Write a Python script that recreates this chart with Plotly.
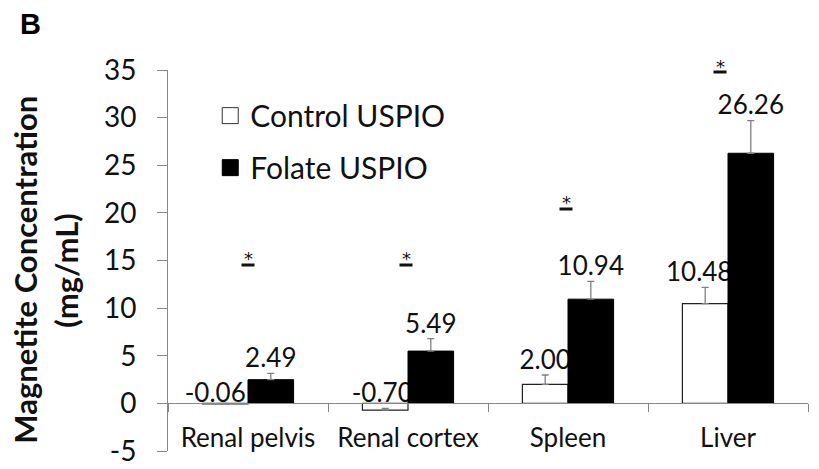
import plotly.graph_objects as go

# ---- data -------------------------------------------------------------
categories = ["Renal pelvis", "Renal cortex", "Spleen", "Liver"]
control_mean = [-0.06, -0.70, 2.00, 10.48]
control_err = [0.05, 0.18, 0.98, 1.69]
folate_mean = [2.49, 5.49, 10.94, 26.26]
folate_err = [0.66, 1.30, 1.86, 3.42]
y_ticks = [-5, 0, 5, 10, 15, 20, 25, 30, 35]
y_tick_text = [str(t) for t in y_ticks]

# ---- layout helpers ---------------------------------------------------
Y_RANGE = [-5, 35]
star_y = [15.6, 15.6, 21.5, 35.8]          # height of the significance marks
star_dx = [0, -2, -2, -8]                   # pixel nudges of the marks
ctrl_label_dx = [-10, -3, 0, -6]            # pixel nudges of control labels
BAR_W = 0.285
PX_PER_CAT = 160.0
FONT = "Lato"
TXT = "#111111"
AXIS = "#878787"


def label_centre(v, e):
    top = max(v + e, 0.0)
    return top + (1.7 if v > 0 else 1.15)


def to_paper(v):
    return (v - Y_RANGE[0]) / (Y_RANGE[1] - Y_RANGE[0])


fig = go.Figure()

# legend entries
fig.add_trace(go.Scatter(
    x=[None], y=[None], mode="markers", name="Control USPIO",
    marker=dict(symbol="square", size=16, color="white",
                line=dict(color="#333333", width=1)),
    legendgroup="c"))
fig.add_trace(go.Scatter(
    x=[None], y=[None], mode="markers", name="Folate USPIO",
    marker=dict(symbol="square", size=16, color="black",
                line=dict(color="black", width=1)),
    legendgroup="f"))

# control bars
fig.add_trace(go.Bar(
    x=categories, y=control_mean, offset=-BAR_W, width=BAR_W,
    marker=dict(color="white", line=dict(color="#222222", width=1.2)),
    error_y=dict(type="data", symmetric=False, array=control_err,
                 arrayminus=[0] * len(control_err), color="#7f7f7f",
                 thickness=1.3, width=3.5),
    showlegend=False, hoverinfo="skip"))

# control value labels (drawn below the folate bars)
fig.add_trace(go.Bar(
    x=categories,
    y=[1.0] * len(categories),
    base=[label_centre(v, e) - 0.5 for v, e in zip(control_mean, control_err)],
    offset=[-BAR_W + d / PX_PER_CAT for d in ctrl_label_dx], width=BAR_W,
    marker=dict(color="rgba(0,0,0,0)", line=dict(width=0)),
    text=[f"{v:.2f}" for v in control_mean],
    textposition="inside", insidetextanchor="middle", constraintext="none",
    textangle=0,
    insidetextfont=dict(family=FONT, size=26, color=TXT),
    showlegend=False, hoverinfo="skip"))

# folate bars
fig.add_trace(go.Bar(
    x=categories, y=folate_mean, offset=0, width=BAR_W,
    marker=dict(color="black", line=dict(color="black", width=1)),
    error_y=dict(type="data", symmetric=False, array=folate_err,
                 arrayminus=[0] * len(folate_err), color="#7f7f7f",
                 thickness=1.3, width=3.5),
    showlegend=False, hoverinfo="skip"))

# folate value labels
fig.add_trace(go.Bar(
    x=categories,
    y=[1.0] * len(categories),
    base=[label_centre(v, e) - 0.5 for v, e in zip(folate_mean, folate_err)],
    offset=0, width=BAR_W,
    marker=dict(color="rgba(0,0,0,0)", line=dict(width=0)),
    text=[f"{v:.2f}" for v in folate_mean],
    textposition="inside", insidetextanchor="middle", constraintext="none",
    textangle=0,
    insidetextfont=dict(family=FONT, size=26, color=TXT),
    showlegend=False, hoverinfo="skip"))

annotations = []
# significance asterisks with a short bar beneath
for cat, sy, dx in zip(categories, star_y, star_dx):
    annotations.append(dict(x=cat, y=to_paper(sy), xref="x", yref="paper",
                            text="*", xanchor="center", yanchor="middle",
                            showarrow=False, xshift=dx, yshift=-4,
                            font=dict(family="DejaVu Sans", size=18,
                                      color=TXT)))
    annotations.append(dict(x=cat, y=to_paper(sy), xref="x", yref="paper",
                            text=" ", xanchor="center", yanchor="middle",
                            showarrow=False, xshift=dx, yshift=-10,
                            width=12, height=2, borderpad=0,
                            bgcolor=TXT, font=dict(size=2)))

# panel letter
annotations.append(dict(x=-0.215, y=1.12, xref="paper", yref="paper",
                        xanchor="center", yanchor="middle",
                        text="<b>B</b>", showarrow=False,
                        font=dict(family="Liberation Sans", size=29,
                                  color="black")))
# y-axis title, two lines
annotations.append(dict(x=-0.224, y=0.475, xref="paper", yref="paper",
                        xanchor="center", yanchor="middle",
                        text="<b>Magnetite Concentration</b>", textangle=-90,
                        showarrow=False,
                        font=dict(family=FONT, size=31, color=TXT)))
annotations.append(dict(x=-0.160, y=0.475, xref="paper", yref="paper",
                        xanchor="center", yanchor="middle",
                        text="<b>(mg/mL)</b>", textangle=-90,
                        showarrow=False,
                        font=dict(family=FONT, size=31, color=TXT)))

fig.update_layout(
    width=819, height=469,
    margin=dict(l=168, r=11, t=70, b=18, autoexpand=False),
    paper_bgcolor="white", plot_bgcolor="white",
    barmode="overlay",
    font=dict(family=FONT, color=TXT),
    showlegend=True,
    legend=dict(x=0.066, y=0.812, xanchor="left", yanchor="middle",
                bgcolor="rgba(0,0,0,0)", borderwidth=0,
                font=dict(family=FONT, size=30, color=TXT),
                itemsizing="trace", tracegroupgap=10),
    annotations=annotations,
    xaxis=dict(type="category", range=[-0.5, 3.5], anchor="free",
               position=to_paper(0), showline=True, linecolor=AXIS,
               linewidth=1, ticks="outside", tickson="boundaries", ticklen=8,
               tickcolor=AXIS, tickwidth=1, showgrid=False, zeroline=False,
               ticklabelstandoff=11, automargin=False,
               tickfont=dict(family=FONT, size=26, color=TXT)),
    yaxis=dict(range=Y_RANGE, tickvals=y_ticks, ticktext=y_tick_text,
               domain=[0, 1], automargin=False,
               showline=True, linecolor=AXIS, linewidth=1,
               ticks="outside", ticklen=10, tickcolor=AXIS, tickwidth=1,
               showgrid=False, zeroline=False, ticklabelstandoff=15,
               tickfont=dict(family=FONT, size=28, color=TXT)),
)

fig.write_html("out.html")
